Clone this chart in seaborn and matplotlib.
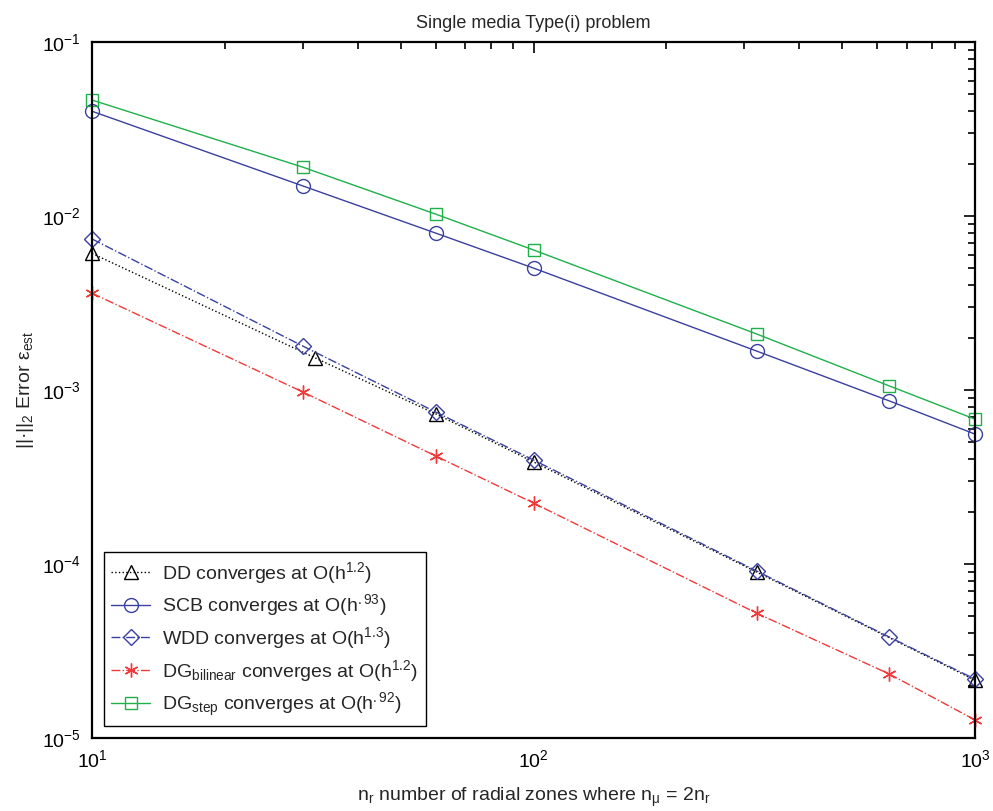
import numpy as np
import pandas as pd
import matplotlib
matplotlib.use("Agg")
import matplotlib.pyplot as plt
import seaborn as sns
from matplotlib.ticker import LogLocator, NullFormatter

# ---- data ----
x_dd = [10, 32, 60, 100, 320, 1000]
err_dd = [6.1e-3, 1.53e-3, 7.3e-4, 3.86e-4, 9.0e-5, 2.15e-5]

x_all = [10, 30, 60, 100, 320, 640, 1000]
err_scb = [4.0e-2, 1.49e-2, 7.98e-3, 5.02e-3, 1.675e-3, 8.65e-4, 5.58e-4]
err_wdd = [7.38e-3, 1.79e-3, 7.48e-4, 3.96e-4, 9.12e-5, 3.80e-5, 2.18e-5]
err_dgb = [3.60e-3, 9.75e-4, 4.18e-4, 2.24e-4, 5.22e-5, 2.33e-5, 1.27e-5]
err_dgs = [4.64e-2, 1.91e-2, 1.026e-2, 6.38e-3, 2.10e-3, 1.055e-3, 6.8e-4]

labels = [
    r"DD converges at O(h$^{\mathregular{1.2}}$)",
    r"SCB converges at O(h$^{\mathregular{.93}}$)",
    r"WDD converges at O(h$^{\mathregular{1.3}}$)",
    r"DG$_{\mathregular{bilinear}}$ converges at O(h$^{\mathregular{1.2}}$)",
    r"DG$_{\mathregular{step}}$ converges at O(h$^{\mathregular{.92}}$)",
]

sns.set_style("white")
plt.rcParams["font.family"] = ["Liberation Sans", "DejaVu Sans"]
plt.rcParams["mathtext.fontset"] = "custom"
plt.rcParams["mathtext.rm"] = "Liberation Sans"
plt.rcParams["mathtext.it"] = "Liberation Sans:italic"
plt.rcParams["mathtext.default"] = "regular"

fig = plt.figure(figsize=(9.93, 8.11), dpi=100)
ax = fig.add_axes([92 / 993, 1 - 738 / 811, (975 - 92) / 993, (738 - 42) / 811])

blue = "#3a40a0"
green = "#1fb04a"
red = "#f03a3a"

series = [
    (x_dd, err_dd, "black", ":", "^", 10, labels[0]),
    (x_all, err_scb, blue, "-", "o", 10, labels[1]),
    (x_all, err_wdd, blue, "-.", "D", 8, labels[2]),
    (x_all, err_dgb, red, "-.", (6, 2, 0), 10, labels[3]),
    (x_all, err_dgs, green, "-", "s", 8, labels[4]),
]

for xs, ys, c, ls, mk, ms, lab in series:
    df = pd.DataFrame({"x": xs, "y": ys})
    sns.lineplot(data=df, x="x", y="y", ax=ax, color=c, linestyle=ls,
                 marker=mk, markersize=ms, markerfacecolor="none",
                 markeredgecolor=c, markeredgewidth=1.0, linewidth=1.0,
                 estimator=None, sort=False, label=lab, clip_on=False)

ax.set_xscale("log")
ax.set_yscale("log")
ax.set_xlim(10, 1000)
ax.set_ylim(1e-5, 1e-1)

ax.xaxis.set_major_locator(LogLocator(base=10, numticks=10))
ax.yaxis.set_major_locator(LogLocator(base=10, numticks=10))
ax.xaxis.set_minor_locator(LogLocator(base=10, subs=np.arange(2, 10), numticks=20))
ax.yaxis.set_minor_locator(LogLocator(base=10, subs=np.arange(2, 10), numticks=20))
ax.xaxis.set_minor_formatter(NullFormatter())
ax.yaxis.set_minor_formatter(NullFormatter())

ax.tick_params(which="both", direction="in", top=True, right=True,
               colors="black", labelsize=14, width=1.2)
ax.tick_params(which="major", length=8, pad=8)
ax.tick_params(which="minor", length=5)
for sp in ax.spines.values():
    sp.set_color("black")
    sp.set_linewidth(1.6)

ax.set_title("Single media Type(i) problem", fontsize=13, pad=10)
ax.set_xlabel(r"n$_{\mathregular{r}}$ number of radial zones where n$_{\mathregular{\mu}}$ = 2n$_{\mathregular{r}}$",
              fontsize=14, labelpad=11)
ax.set_ylabel(r"||·||$_{\mathregular{2}}$ Error ε$_{\mathregular{est}}$", fontsize=14, labelpad=4)

leg = ax.legend(loc="lower left", fontsize=14, frameon=True, fancybox=False,
                edgecolor="black", framealpha=1, handlelength=2.0,
                borderaxespad=0.6, labelspacing=0.35, handletextpad=0.6)
leg.get_frame().set_linewidth(1.0)

fig.savefig("out.png", dpi=100)
